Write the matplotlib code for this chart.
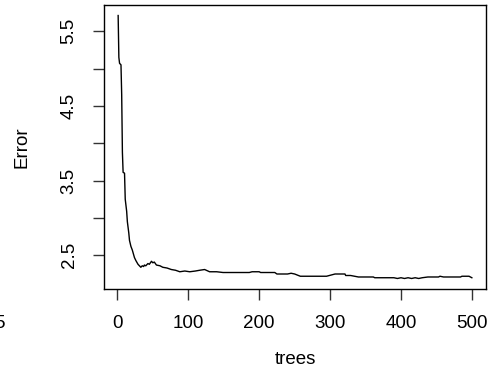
import matplotlib
matplotlib.use("Agg")
import matplotlib.pyplot as plt

plt.rcParams['font.family'] = ['Liberation Sans', 'DejaVu Sans']

trees = [1, 2, 3, 5, 6, 7, 8, 10, 11, 13, 14, 16, 17, 19, 21, 24, 26, 29, 31, 33,
         35, 37, 38, 40, 43, 45, 48, 50, 52, 55, 60, 64, 70, 76, 82, 88, 95, 102,
         110, 116, 123, 130, 140, 149, 160, 175, 186, 190, 200, 202, 222, 225, 240,
         245, 250, 258, 280, 295, 307, 321, 322, 329, 340, 361, 363, 390, 395, 400,
         405, 410, 415, 420, 425, 430, 438, 453, 455, 460, 484, 486, 496, 500]
error = [5.71, 5.15, 5.07, 5.05, 4.65, 3.88, 3.61, 3.60, 3.25, 3.09, 2.95, 2.80, 2.70,
         2.62, 2.57, 2.47, 2.43, 2.38, 2.36, 2.34, 2.36, 2.35, 2.37, 2.36, 2.39, 2.38,
         2.42, 2.40, 2.41, 2.37, 2.36, 2.34, 2.33, 2.31, 2.30, 2.28, 2.29, 2.28, 2.29,
         2.30, 2.31, 2.28, 2.28, 2.27, 2.27, 2.27, 2.27, 2.28, 2.28, 2.27, 2.27, 2.25,
         2.25, 2.26, 2.25, 2.22, 2.22, 2.22, 2.25, 2.25, 2.23, 2.23, 2.21, 2.21, 2.20,
         2.20, 2.19, 2.20, 2.19, 2.20, 2.19, 2.20, 2.19, 2.20, 2.21, 2.21, 2.22, 2.21,
         2.21, 2.22, 2.22, 2.20]

xticks = [0, 100, 200, 300, 400, 500]
yticks = [2.5, 3.0, 3.5, 4.0, 4.5, 5.0, 5.5]
ytick_labels = ["2.5", "", "3.5", "", "4.5", "", "5.5"]

fs = 13.5
fig = plt.figure(figsize=(4.93, 3.85), dpi=100)
ax = fig.add_axes([104/493, 1-289/385, (486-104)/493, (289-5)/385])
ax.plot(trees, error, color='black', lw=1.0)

xmin, xmax = min(trees), max(trees)
ymin, ymax = min(error), max(error)
dx = (xmax - xmin) * 0.04
dy = (ymax - ymin) * 0.04
ax.set_xlim(xmin - dx, xmax + dx)
ax.set_ylim(ymin - dy, ymax + dy)

ax.set_xticks(xticks)
ax.set_xticklabels([str(t) for t in xticks], fontsize=fs)
ax.set_yticks(yticks)
ax.set_yticklabels(ytick_labels, fontsize=fs, rotation=90, va='center')
ax.tick_params(axis='both', direction='out', length=8, width=1, color='#333333', pad=11)

for s in ax.spines.values():
    s.set_linewidth(1.0)
    s.set_color('black')
ax.spines['bottom'].set_bounds(xmin - dx, xmax + dx)

fig.text(295/493, 1-360/385, "trees", ha='center', va='center', fontsize=fs)
fig.text(22/493, 1-147/385, "Error", ha='center', va='center', fontsize=fs, rotation=90)
fig.text(-6/493, 1-323/385, "5", ha='left', va='center', fontsize=fs)

fig.savefig("out.png", dpi=100)
